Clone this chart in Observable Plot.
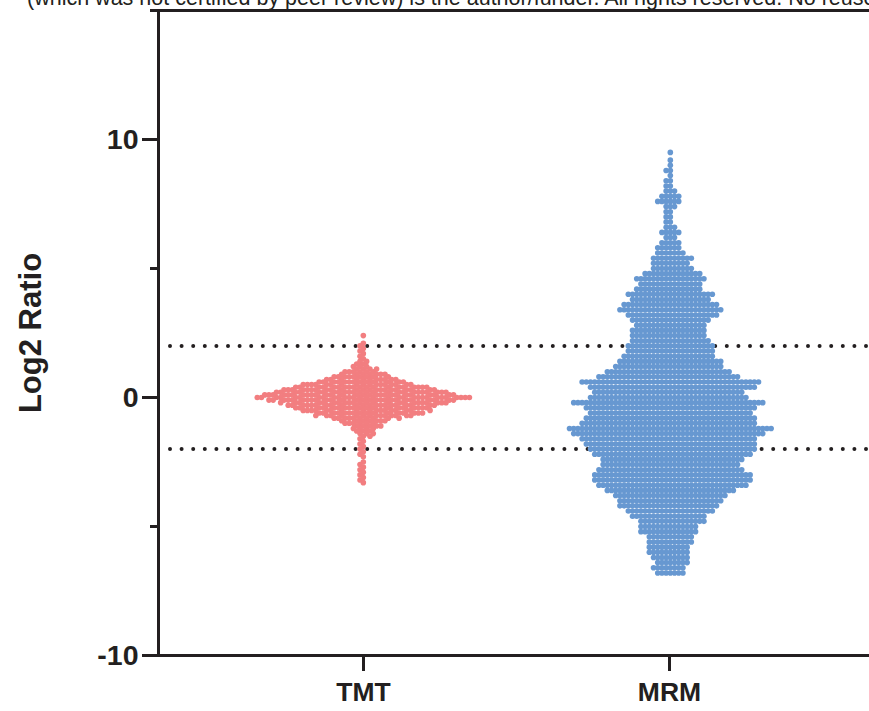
<!DOCTYPE html>
<html>
<head>
<meta charset="utf-8">
<script src="https://cdn.jsdelivr.net/npm/d3@7"></script>
<script src="https://cdn.jsdelivr.net/npm/@observablehq/plot@0.6"></script>
<style>
html, body { margin: 0; padding: 0; background: #fff; }
#wrap { position: relative; width: 869px; height: 711px; overflow: hidden; font-family: "Liberation Sans", Arial, Helvetica, sans-serif; }
#note { position: absolute; left: 27px; top: -12px; font-size: 21.5px; line-height: 21.5px; white-space: nowrap; color: #231f20; z-index: 2; }
#chart { position: absolute; left: 0; top: 0; }
</style>
</head>
<body>
<div id="wrap">
  <div id="note"></div>
  <div id="chart"></div>
</div>
<script>
// ---- data ----
const groups = ["TMT", "MRM"];
const groupColors = ["#F27E80", "#6798D1"];

// TMT: row values (log2 ratio) and number of points in each row
const tmtValues = [2.4, 2.1, 2.0, 1.9, 1.8, 1.7, 1.6, 1.5,
  1.4, 1.3, 1.2, 1.1, 1.0, 0.9, 0.8, 0.7, 0.6, 0.5, 0.4, 0.3, 0.2, 0.1, 0.0,
  -0.1, -0.2, -0.3, -0.4, -0.5, -0.6, -0.7, -0.8, -0.9, -1.0, -1.1, -1.2, -1.3, -1.4, -1.5,
  -1.6, -1.7, -1.8, -1.9, -2.0, -2.1, -2.2, -2.3,
  -2.5, -2.6, -2.7, -2.8, -2.9, -3.0, -3.1, -3.2, -3.3];
const tmtCounts = [1, 1, 1, 1, 1, 1, 1, 1,
  2, 2, 3, 4, 6, 7, 9, 11, 13, 17, 19, 22, 24, 27, 30,
  26, 23, 21, 19, 18, 16, 14, 10, 7, 6, 5, 4, 3, 3, 2,
  1, 1, 1, 1, 1, 1, 1, 1,
  1, 1, 1, 1, 1, 1, 1, 1, 1];

// MRM: row values and number of points in each row
const mrmValues = [9.5, 9.2, 9.0, 8.8, 8.6, 8.4, 8.2, 8.0, 7.8, 7.6,
  7.4, 7.2, 7.0, 6.8, 6.6, 6.4, 6.2, 6.0, 5.8, 5.6,
  5.4, 5.2, 5.0, 4.8, 4.6, 4.4, 4.2, 4.0, 3.8, 3.6,
  3.4, 3.2, 3.0, 2.8, 2.6, 2.4, 2.2, 2.0, 1.8, 1.6,
  1.4, 1.2, 1.0, 0.8, 0.6, 0.4, 0.2, 0.0, -0.2, -0.4,
  -0.6, -0.8, -1.0, -1.2, -1.4, -1.6, -1.8, -2.0, -2.2, -2.4,
  -2.6, -2.8, -3.0, -3.2, -3.4, -3.6, -3.8, -4.0, -4.2, -4.4,
  -4.6, -4.8, -5.0, -5.2, -5.4, -5.6, -5.8, -6.0, -6.2, -6.4,
  -6.6, -6.8];
const mrmCounts = [1, 1, 1, 2, 1, 2, 2, 3, 5, 6,
  3, 2, 2, 2, 3, 5, 3, 5, 6, 7,
  10, 9, 10, 14, 17, 15, 16, 21, 19, 23,
  25, 22, 19, 17, 18, 18, 19, 21, 21, 22,
  25, 26, 30, 34, 43, 40, 36, 38, 46, 41,
  39, 41, 42, 49, 46, 42, 41, 40, 38, 34,
  33, 35, 38, 38, 36, 31, 27, 25, 24, 21,
  18, 16, 14, 14, 11, 11, 10, 10, 9, 8,
  8, 7];

const yDomain = [-10, 15];
const yMajorTicks = [-10, 0, 10];
const yMinorTicks = [-5, 5, 15];
const cutoffLines = [2, -2];
const yLabel = "Log2 Ratio";
const noteText = "(which was not certified by peer review) is the author/funder. All rights reserved. No reuse allowed without permission.";

// ---- build point tables (row-interleaved order for the swarm layout) ----
function expand(group, values, counts) {
  const out = [];
  const maxC = d3.max(counts);
  for (let k = 0; k < maxC; k++) {
    values.forEach((v, i) => { if (counts[i] > k) out.push({group, value: v}); });
  }
  return out;
}
const series = {
  TMT: expand("TMT", tmtValues, tmtCounts),
  MRM: expand("MRM", mrmValues, mrmCounts)
};

const ink = "#231f20";
document.getElementById("note").textContent = noteText;

const W = 869, H = 711, mL = 158, mR = 0, mT = 10, mB = 56;
const xOpts = {type: "point", domain: groups, padding: 0.658, align: 0.507};
// the x scale, so each swarm can be centred on its category position
const xs = Plot.scale({x: {...xOpts, range: [mL, W - mR]}});
const frameCenter = (mL + W - mR) / 2;

const swarmMarks = groups.map((g, i) =>
  Plot.dot(series[g], Plot.dodgeX({anchor: "middle", padding: -1.4}, {
    y: "value", r: 2.8, fill: groupColors[i], dx: xs.apply(g) - frameCenter
  }))
);

const chart = Plot.plot({
  width: W,
  height: H,
  marginLeft: mL,
  marginRight: mR,
  marginTop: mT,
  marginBottom: mB,
  style: {fontFamily: "'Liberation Sans', Arial, Helvetica, sans-serif", background: "transparent", overflow: "visible"},
  x: xOpts,
  y: {domain: yDomain},
  marks: [
    Plot.ruleY(cutoffLines, {stroke: ink, strokeWidth: 4, strokeDasharray: "0 11.6", strokeLinecap: "round", insetLeft: 12}),
    ...swarmMarks,
    Plot.ruleY([yDomain[0]], {stroke: ink, strokeWidth: 3}),
    Plot.ruleY([yDomain[1]], {stroke: ink, strokeWidth: 3, insetLeft: -8}),
    Plot.frame({anchor: "left", stroke: ink, strokeWidth: 3}),
    Plot.axisY(yMajorTicks, {tickSize: 16, tickPadding: 4, strokeWidth: 3, color: ink, fontSize: 28.5, fontWeight: "bold", label: null, tickFormat: d => String(d)}),
    Plot.axisY(yMinorTicks, {tickSize: 8, strokeWidth: 3, color: ink, tickFormat: () => "", label: null}),
    Plot.axisX({anchor: "bottom", tickSize: 16, tickPadding: 11, strokeWidth: 3, color: ink, fontSize: 26.5, fontWeight: "bold", label: null}),
    Plot.text([yLabel], {frameAnchor: "left", textAnchor: "middle", dx: -127, rotate: -90, fontSize: 31, fontWeight: "bold", fill: ink})
  ]
});
document.getElementById("chart").appendChild(chart);
</script>
</body>
</html>
